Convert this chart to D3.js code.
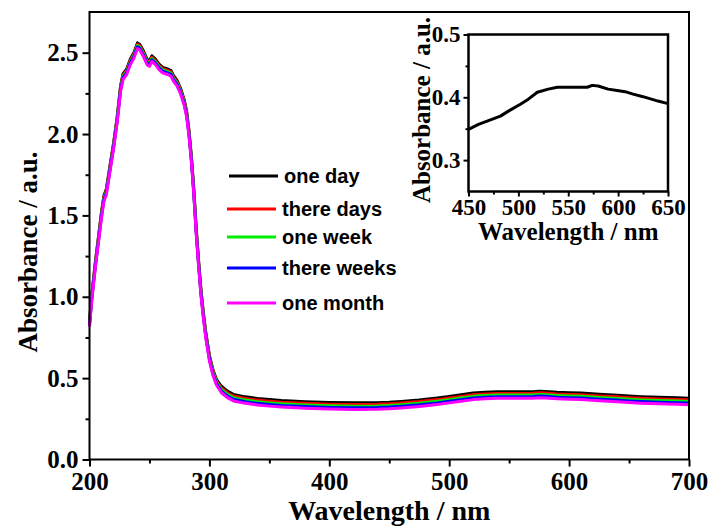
<!DOCTYPE html>
<html>
<head>
<meta charset="utf-8">
<script src="https://cdn.jsdelivr.net/npm/d3@7"></script>
<style>
  body { margin: 0; background: #fff; }
  .axis text { font-family: "Liberation Serif", "Times New Roman", serif; font-weight: bold; fill: #000; }
  .axis line { stroke: #000; stroke-width: 2; }
  .axis path { display: none; }
</style>
</head>
<body>
<div id="chart"></div>
<script>
// wavelengths (nm) shared by all five spectra
var wavelength = [200,202,205,208,210,212,214,217,220,223,226,228,231,234,237,240,242,245,248,250,
  252,255,258,261,265,268,270,273,276,279,281,283,285,287,289,291,293,295,297,300,303,306,
  310,315,320,330,340,350,360,380,400,420,440,450,460,475,490,500,510,520,530,540,555,570,
  575,580,590,600,610,625,640,650,660,675,690,700];

var oneDay = [0.85,1.02,1.22,1.40,1.52,1.62,1.66,1.80,1.94,2.10,2.30,2.37,2.40,2.46,2.50,2.56,2.55,2.51,2.46,2.45,
  2.48,2.46,2.43,2.41,2.40,2.39,2.36,2.33,2.28,2.21,2.14,2.02,1.86,1.66,1.42,1.22,1.04,0.90,0.78,0.64,0.55,0.49,
  0.45,0.42,0.40,0.385,0.375,0.368,0.362,0.355,0.350,0.348,0.349,0.352,0.357,0.366,0.378,0.388,0.398,0.408,0.413,0.416,0.416,0.417,
  0.420,0.418,0.413,0.410,0.408,0.401,0.395,0.390,0.386,0.382,0.379,0.377];

var threeDays = [0.842,1.012,1.212,1.392,1.512,1.612,1.652,1.792,1.932,2.092,2.292,2.362,2.392,2.452,2.492,2.552,2.542,2.502,2.452,2.442,
  2.472,2.452,2.422,2.402,2.392,2.382,2.352,2.322,2.272,2.202,2.132,2.012,1.852,1.652,1.412,1.212,1.032,0.892,0.772,0.632,0.542,0.482,
  0.44,0.41,0.39,0.375,0.365,0.358,0.352,0.345,0.340,0.338,0.339,0.342,0.347,0.356,0.368,0.378,0.388,0.398,0.403,0.406,0.406,0.407,
  0.410,0.408,0.403,0.400,0.398,0.391,0.385,0.380,0.376,0.372,0.369,0.367];

var oneWeek = [0.834,1.004,1.204,1.384,1.504,1.604,1.644,1.784,1.924,2.084,2.284,2.354,2.384,2.444,2.484,2.544,2.534,2.494,2.444,2.434,
  2.464,2.444,2.414,2.394,2.384,2.374,2.344,2.314,2.264,2.194,2.124,2.004,1.844,1.644,1.404,1.204,1.024,0.884,0.764,0.624,0.534,0.474,
  0.43,0.40,0.38,0.365,0.355,0.348,0.342,0.335,0.330,0.328,0.329,0.332,0.337,0.346,0.358,0.368,0.378,0.388,0.393,0.396,0.396,0.397,
  0.400,0.398,0.393,0.390,0.388,0.381,0.375,0.370,0.366,0.362,0.359,0.357];

var threeWeeks = [0.826,0.996,1.196,1.376,1.496,1.596,1.636,1.776,1.916,2.076,2.276,2.346,2.376,2.436,2.476,2.536,2.526,2.486,2.436,2.426,
  2.456,2.436,2.406,2.386,2.376,2.366,2.336,2.306,2.256,2.186,2.116,1.996,1.836,1.636,1.396,1.196,1.016,0.876,0.756,0.616,0.526,0.466,
  0.42,0.39,0.37,0.355,0.345,0.338,0.332,0.325,0.320,0.318,0.319,0.322,0.327,0.336,0.348,0.358,0.368,0.378,0.383,0.386,0.386,0.387,
  0.390,0.388,0.383,0.380,0.378,0.371,0.365,0.360,0.356,0.352,0.349,0.347];

var oneMonth = [0.816,0.986,1.186,1.366,1.486,1.586,1.626,1.766,1.906,2.066,2.266,2.336,2.366,2.426,2.466,2.526,2.516,2.476,2.426,2.416,
  2.446,2.426,2.396,2.376,2.366,2.356,2.326,2.296,2.246,2.176,2.106,1.986,1.826,1.626,1.386,1.186,1.006,0.866,0.746,0.606,0.516,0.456,
  0.41,0.38,0.36,0.345,0.335,0.328,0.322,0.315,0.310,0.308,0.309,0.312,0.317,0.326,0.338,0.348,0.358,0.368,0.373,0.376,0.376,0.377,
  0.380,0.378,0.373,0.370,0.368,0.361,0.355,0.350,0.346,0.342,0.339,0.337];

var seriesNames = ["one day", "there days", "one week", "there weeks", "one month"];
var seriesColors = ["#000000", "#ff0000", "#00ee00", "#0000ff", "#ff00ff"];
var seriesValues = [oneDay, threeDays, oneWeek, threeWeeks, oneMonth];

// inset: one day, 450-650 nm zoomed
var insetWavelength = [450,460,470,482,490,502,510,519,530,539,550,560,569,574,580,590,599,607,615,625,640,650];
var insetAbs = [0.349,0.357,0.363,0.370,0.378,0.389,0.397,0.408,0.413,0.416,0.416,0.416,0.416,0.419,0.418,0.413,0.411,0.409,0.405,0.401,0.394,0.390];

var xTicks = [200,300,400,500,600,700];
var xMinor = [250,350,450,550,650];
var yTicks = [0,0.5,1.0,1.5,2.0,2.5];
var yMinor = [0.25,0.75,1.25,1.75,2.25];
var insetXTicks = [450,500,550,600,650];
var insetXMinor = [475,525,575,625];
var insetYTicks = [0.3,0.4,0.5];
var insetYMinor = [0.35,0.45];

var W = 710, H = 528;
var svg = d3.select("#chart").append("svg")
    .attr("width", W)
    .attr("height", H);

// ---- main plot ----
var pLeft = 89.5, pRight = 689, pTop = 12, pBottom = 459.5;

var x = d3.scaleLinear().domain([200, 700]).range([pLeft, pRight]);
var y = d3.scaleLinear().domain([0, 2.75]).range([pBottom, pTop]);

svg.append("g")
    .attr("class", "axis")
    .attr("transform", "translate(0," + pBottom + ")")
    .call(d3.axisBottom(x).tickValues(xTicks).tickSize(7).tickPadding(6).tickFormat(d3.format("d")))
    .selectAll("text").style("font-size", "25px");
svg.append("g")
    .attr("class", "axis")
    .attr("transform", "translate(0," + pBottom + ")")
    .call(d3.axisBottom(x).tickValues(xMinor).tickSize(4).tickFormat(""));

svg.append("g")
    .attr("class", "axis")
    .attr("transform", "translate(" + pLeft + ",0)")
    .call(d3.axisLeft(y).tickValues(yTicks).tickSize(7).tickPadding(4).tickFormat(d3.format(".1f")))
    .selectAll("text").style("font-size", "25px");
svg.append("g")
    .attr("class", "axis")
    .attr("transform", "translate(" + pLeft + ",0)")
    .call(d3.axisLeft(y).tickValues(yMinor).tickSize(4).tickFormat(""));

var line = d3.line()
    .x(d => x(d[0]))
    .y(d => y(d[1]));

seriesValues.forEach(function(vals, i) {
    svg.append("path")
        .datum(wavelength.map((w, j) => [w, vals[j]]))
        .attr("fill", "none")
        .attr("stroke", seriesColors[i])
        .attr("stroke-width", 3)
        .attr("stroke-linejoin", "round")
        .attr("d", line);
});

svg.append("rect")
    .attr("x", pLeft).attr("y", pTop)
    .attr("width", pRight - pLeft).attr("height", pBottom - pTop)
    .attr("fill", "none").attr("stroke", "#000").attr("stroke-width", 2);

svg.append("text")
    .attr("x", (pLeft + pRight) / 2)
    .attr("y", 520)
    .attr("text-anchor", "middle")
    .style("font-family", "'Liberation Serif', serif")
    .style("font-weight", "bold")
    .style("font-size", "28px")
    .text("Wavelength / nm");

svg.append("text")
    .attr("transform", "translate(37,252) rotate(-90)")
    .attr("text-anchor", "middle")
    .style("font-family", "'Liberation Serif', serif")
    .style("font-weight", "bold")
    .style("font-size", "27px")
    .text("Absorbance / a.u.");

// legend
var legendY = [176, 209, 237, 268, 303];
var legend = svg.append("g");
seriesNames.forEach(function(name, i) {
    legend.append("line")
        .attr("x1", i == 0 ? 229 : 227).attr("x2", i == 0 ? 278 : 276)
        .attr("y1", legendY[i]).attr("y2", legendY[i])
        .attr("stroke", seriesColors[i])
        .attr("stroke-width", 3);
    legend.append("text")
        .attr("x", i == 0 ? 284 : 282)
        .attr("y", legendY[i])
        .attr("dy", "0.35em")
        .style("font-family", "'Liberation Sans', Arial, sans-serif")
        .style("font-weight", "bold")
        .style("font-size", "20px")
        .text(name);
});

// ---- inset ----
var iLeft = 468.5, iRight = 668, iTop = 34.5, iBottom = 191.5;
var ix = d3.scaleLinear().domain([450, 650]).range([iLeft, iRight]);
var iy = d3.scaleLinear().domain([0.25, 0.5]).range([iBottom, iTop]);

svg.append("g")
    .attr("class", "axis")
    .attr("transform", "translate(0," + iBottom + ")")
    .call(d3.axisBottom(ix).tickValues(insetXTicks).tickSize(5).tickPadding(2).tickFormat(d3.format("d")))
    .selectAll("text").style("font-size", "23px");
svg.append("g")
    .attr("class", "axis")
    .attr("transform", "translate(0," + iBottom + ")")
    .call(d3.axisBottom(ix).tickValues(insetXMinor).tickSize(3).tickFormat(""));
svg.append("g")
    .attr("class", "axis")
    .attr("transform", "translate(" + iLeft + ",0)")
    .call(d3.axisLeft(iy).tickValues(insetYTicks).tickSize(5).tickPadding(3).tickFormat(d3.format(".1f")))
    .selectAll("text").style("font-size", "23px");
svg.append("g")
    .attr("class", "axis")
    .attr("transform", "translate(" + iLeft + ",0)")
    .call(d3.axisLeft(iy).tickValues(insetYMinor).tickSize(3).tickFormat(""));

var iline = d3.line()
    .x(d => ix(d[0]))
    .y(d => iy(d[1]));

svg.append("path")
    .datum(insetWavelength.map((w, j) => [w, insetAbs[j]]))
    .attr("fill", "none")
    .attr("stroke", "#000")
    .attr("stroke-width", 3)
    .attr("stroke-linejoin", "round")
    .attr("d", iline);

svg.append("rect")
    .attr("x", iLeft).attr("y", iTop)
    .attr("width", iRight - iLeft).attr("height", iBottom - iTop)
    .attr("fill", "none").attr("stroke", "#000").attr("stroke-width", 2.5);

svg.append("text")
    .attr("x", (iLeft + iRight) / 2)
    .attr("y", 240)
    .attr("text-anchor", "middle")
    .style("font-family", "'Liberation Serif', serif")
    .style("font-weight", "bold")
    .style("font-size", "25px")
    .text("Wavelength / nm");

svg.append("text")
    .attr("transform", "translate(430,110) rotate(-90)")
    .attr("text-anchor", "middle")
    .style("font-family", "'Liberation Serif', serif")
    .style("font-weight", "bold")
    .style("font-size", "25px")
    .text("Absorbance / a.u.");
</script>
</body>
</html>
